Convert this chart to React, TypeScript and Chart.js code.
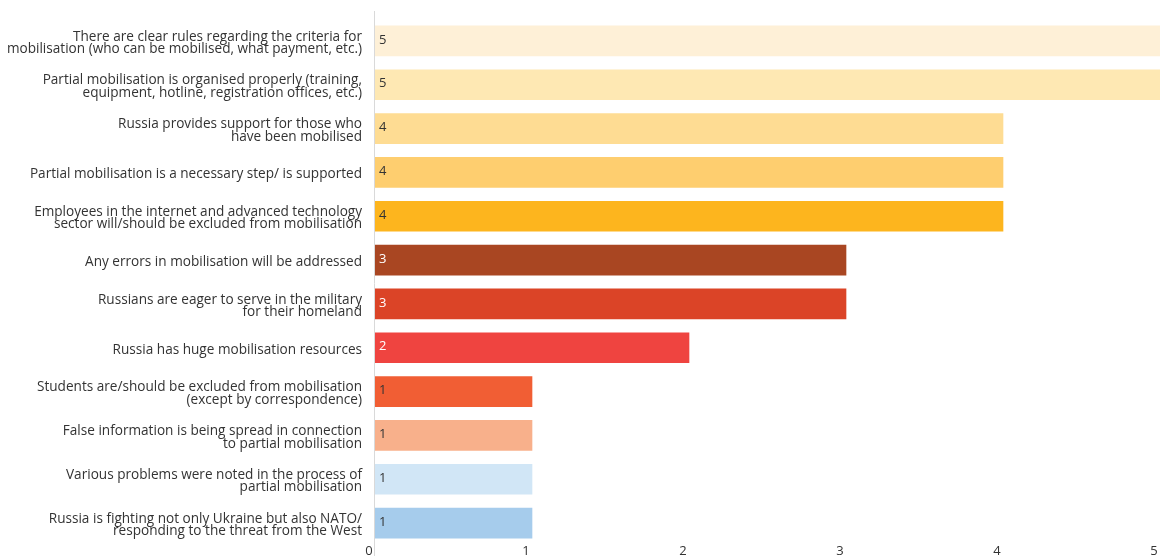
import React, { useEffect, useRef } from "react";
import { Chart, registerables } from "chart.js";

Chart.register(...registerables);

// Survey statements (y axis), wrapped into lines as displayed
const categories: (string | string[])[] = [
  ["There are clear rules regarding the criteria for", "mobilisation (who can be mobilised, what payment, etc.)"],
  ["Partial mobilisation is organised properly (training,", "equipment, hotline, registration offices, etc.)"],
  ["Russia provides support for those who", "have been mobilised"],
  "Partial mobilisation is a necessary step/ is supported",
  ["Employees in the internet and advanced technology", "sector will/should be excluded from mobilisation"],
  "Any errors in mobilisation will be addressed",
  ["Russians are eager to serve in the military", "for their homeland"],
  "Russia has huge mobilisation resources",
  ["Students are/should be excluded from mobilisation", "(except by correspondence)"],
  ["False information is being spread in connection", "to partial mobilisation"],
  ["Various problems were noted in the process of", "partial mobilisation"],
  ["Russia is fighting not only Ukraine but also NATO/", "responding to the threat from the West"],
];

const values: number[] = [5, 5, 4, 4, 4, 3, 3, 2, 1, 1, 1, 1];

const barColors: string[] = [
  "#FEF0D7",
  "#FEE8B3",
  "#FEDC93",
  "#FECE6F",
  "#FDB51E",
  "#A94622",
  "#DB4427",
  "#EF4440",
  "#F15E34",
  "#F8B08B",
  "#D1E6F6",
  "#A6CCEC",
];

const valueLabelColors: string[] = [
  "#333333",
  "#333333",
  "#333333",
  "#333333",
  "#333333",
  "#FFFFFF",
  "#FFFFFF",
  "#FFFFFF",
  "#333333",
  "#333333",
  "#333333",
  "#333333",
];

const xMin = 0;
const xMax = 5;

const FONT = "'Open Sans', sans-serif";
const TEXT = "#333333";

// Light vertical rule along the left edge of the plot
const axisRulePlugin = {
  id: "axisRule",
  beforeDatasetsDraw(chart: any) {
    const { ctx, chartArea } = chart;
    ctx.save();
    ctx.strokeStyle = "#D9D9D9";
    ctx.lineWidth = 1;
    ctx.beginPath();
    const x = Math.round(chartArea.left) - 0.5;
    ctx.moveTo(x, 11);
    ctx.lineTo(x, chart.height);
    ctx.stroke();
    ctx.restore();
  },
};

// Value printed just inside the start of each bar
const valueLabelPlugin = {
  id: "valueLabels",
  afterDatasetsDraw(chart: any) {
    const { ctx } = chart;
    const meta = chart.getDatasetMeta(0);
    ctx.save();
    ctx.font = `13px ${FONT}`;
    ctx.textAlign = "left";
    ctx.textBaseline = "middle";
    meta.data.forEach((bar: any, i: number) => {
      ctx.fillStyle = valueLabelColors[i];
      ctx.fillText(String(values[i]), bar.base + 4, bar.y - 1);
    });
    ctx.restore();
  },
};

export default function App() {
  const canvasRef = useRef<HTMLCanvasElement | null>(null);

  useEffect(() => {
    const canvas = canvasRef.current;
    if (!canvas) return;
    const chart = new Chart(canvas, {
      type: "bar",
      data: {
        labels: categories,
        datasets: [
          {
            data: values,
            backgroundColor: barColors,
            borderWidth: 0,
            barThickness: 30,
          },
        ],
      },
      options: {
        indexAxis: "y",
        responsive: false,
        animation: false,
        layout: { padding: { top: 19, right: 0, bottom: 0, left: 0 } },
        plugins: {
          legend: { display: false },
          tooltip: { enabled: false },
        },
        scales: {
          x: {
            min: xMin,
            max: xMax,
            grid: { display: false, drawTicks: false },
            border: { display: false },
            ticks: {
              stepSize: 1,
              padding: 0,
              labelOffset: -6,
              color: TEXT,
              font: { family: FONT, size: 13, lineHeight: 1 },
            },
            afterFit(scale: any) {
              scale.height = 11;
              scale.paddingLeft = 0;
              scale.paddingRight = 0;
            },
          },
          y: {
            grid: { display: false, drawTicks: false },
            border: { display: false },
            ticks: {
              padding: 13,
              labelOffset: 2,
              color: TEXT,
              autoSkip: false,
              font: { family: FONT, size: 13.6, lineHeight: 0.92 },
            },
            afterFit(scale: any) {
              scale.width = 375;
              scale.paddingTop = 0;
              scale.paddingBottom = 0;
            },
          },
        },
      },
      plugins: [axisRulePlugin, valueLabelPlugin],
    });
    return () => chart.destroy();
  }, []);

  return (
    <div style={{ position: "fixed", left: 0, top: 0, width: 1160, height: 556, background: "#fff" }}>
      <canvas ref={canvasRef} width={1160} height={556} />
    </div>
  );
}
